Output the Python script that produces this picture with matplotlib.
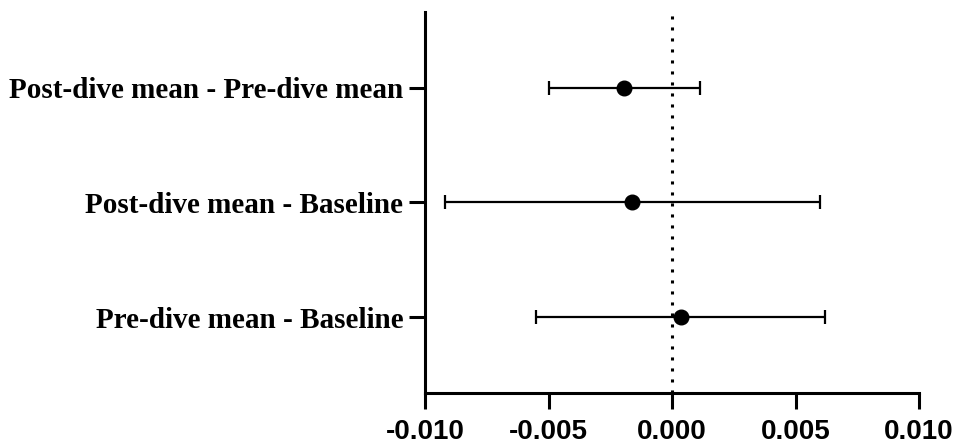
import matplotlib.pyplot as plt

labels = ["Post-dive mean - Pre-dive mean", "Post-dive mean - Baseline", "Pre-dive mean - Baseline"]
diff = [-0.00194, -0.0016, 0.00035]
lower = [-0.0050, -0.0092, -0.0055]
upper = [0.00112, 0.0060, 0.0062]
xticks = [-0.010, -0.005, 0.000, 0.005, 0.010]

fig = plt.figure(figsize=(9.6, 4.48), dpi=100)
ax = fig.add_axes([425 / 960, 1 - 393 / 448, (919 - 425) / 960, (393 - 12) / 448])

ypos = [1, 2, 3]
xerr = [[d - lo for d, lo in zip(diff, lower)], [hi - d for d, hi in zip(diff, upper)]]

ax.axvline(0, color="black", linestyle=(0, (1, 2.6)), linewidth=2.2, zorder=1)
ax.errorbar(diff, ypos, xerr=xerr, fmt="o", color="black", markersize=10.5,
            elinewidth=1.6, capsize=5, capthick=1.6, zorder=3)

ax.set_xlim(-0.010, 0.010)
ax.set_ylim(3.66, 0.34)
ax.set_xticks(xticks)
ax.set_xticklabels([f"{t:.3f}" for t in xticks], fontfamily="Liberation Sans",
                   fontweight="bold", fontsize=20)
ax.set_yticks(ypos)
ax.set_yticklabels(labels, fontfamily="Liberation Serif", fontweight="bold", fontsize=21)

for side in ["top", "right"]:
    ax.spines[side].set_visible(False)
for side in ["left", "bottom"]:
    ax.spines[side].set_linewidth(2.2)
ax.tick_params(axis="both", length=11.5, width=2.2)
ax.tick_params(axis="x", pad=7)
ax.tick_params(axis="y", pad=4)

fig.savefig("out.png", dpi=100)
